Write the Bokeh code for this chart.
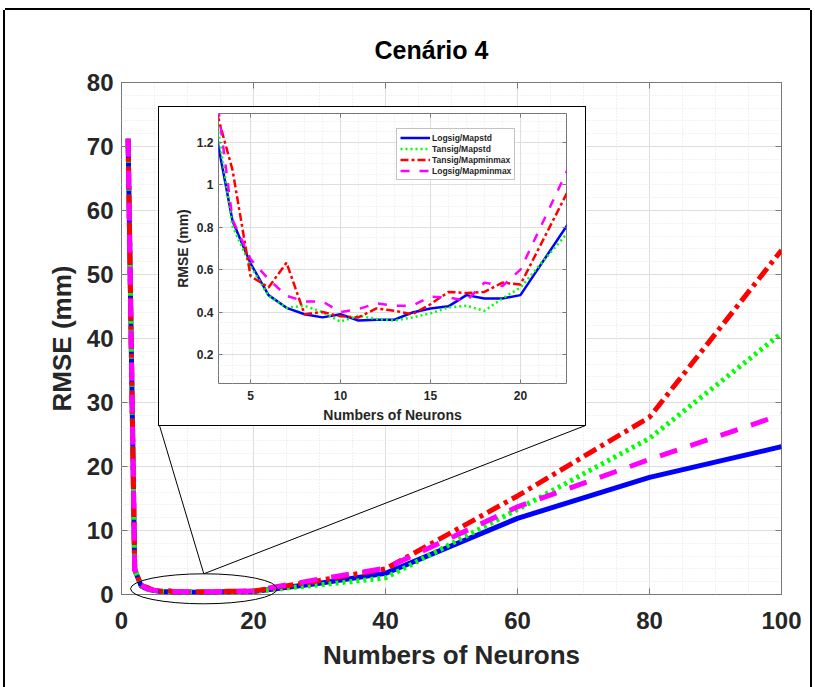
from bokeh.plotting import figure
from bokeh.models import Range1d, LinearAxis, SingleIntervalTicker, Legend, LegendItem
from bokeh.embed import file_html
from bokeh.resources import INLINE

# ---------------- data ----------------
neurons = [1, 2, 3, 4, 5, 6, 7, 8, 9, 10, 11, 12, 13, 14, 15, 16, 17, 18, 19, 20,
           30, 40, 60, 80, 100]
logsig_mapstd = [71.2, 3.9, 1.28, 0.83, 0.63, 0.48, 0.42, 0.39, 0.375, 0.39, 0.36, 0.364,
                 0.364, 0.398, 0.417, 0.427, 0.48, 0.464, 0.464, 0.48,
                 1.75, 3.3, 11.9, 18.3, 23.1]
tansig_mapstd = [71.2, 3.9, 1.37, 0.805, 0.617, 0.477, 0.42, 0.43, 0.40, 0.355, 0.383, 0.367,
                 0.36, 0.375, 0.394, 0.422, 0.43, 0.406, 0.464, 0.516,
                 1.5, 2.6, 13.3, 24.4, 40.8]
tansig_mapminmax = [71.2, 3.9, 1.38, 1.07, 0.57, 0.516, 0.633, 0.39, 0.40, 0.38, 0.375, 0.417,
                    0.406, 0.39, 0.437, 0.495, 0.49, 0.495, 0.539, 0.53,
                    2.2, 4.0, 15.4, 27.7, 53.8]
logsig_mapminmax = [71.2, 3.9, 1.5, 0.836, 0.65, 0.555, 0.477, 0.45, 0.45, 0.40, 0.414, 0.442,
                    0.43, 0.43, 0.473, 0.469, 0.453, 0.539, 0.523, 0.6,
                    2.4, 4.1, 13.7, 21.1, 28.1]
series_names = ["Logsig/Mapstd", "Tansig/Mapstd", "Tansig/Mapminmax", "Logsig/Mapminmax"]
series_values = [logsig_mapstd, tansig_mapstd, tansig_mapminmax, logsig_mapminmax]

title_text = "Cenário 4"
x_label = "Numbers of Neurons"
y_label = "RMSE (mm)"

# ---------------- styles / layout ----------------
FONT = "Liberation Sans"
TXT = "#262626"
AX = "#777777"
colors = ["#0000FF", "#00FF00", "#FF0000", "#FF00FF"]
main_dash = ["solid", "3 4", "14 5 4 5", "18 14"]
inset_dash = ["solid", "2 3", "8 3 3 3", "9 10"]

# main figure placement (page px)
MAIN_LEFT, MAIN_TOP, MAIN_W, MAIN_H = 5, 10, 805, 677
FR_L, FR_R, FR_T, FR_B = 121, 781, 82, 594      # main frame in page px
# inset box placement (page px)
IN_L, IN_T, IN_W, IN_H = 159, 107, 426, 318
IF_L, IF_R, IF_T, IF_B = 218, 566, 113, 385     # inset frame in page px

X0, X1, Y0, Y1 = 0, 100, 0, 80


def style_axis(ax, tick_fs, label_fs, tick_in, label_standoff, axis_label_standoff):
    ax.major_label_text_font = FONT
    ax.major_label_text_font_style = "bold"
    ax.major_label_text_font_size = tick_fs
    ax.major_label_text_color = TXT
    ax.axis_label_text_font = FONT
    ax.axis_label_text_font_style = "bold"
    ax.axis_label_text_font_size = label_fs
    ax.axis_label_text_color = TXT
    ax.axis_line_color = None
    ax.major_tick_in = tick_in
    ax.major_tick_out = 0
    ax.minor_tick_in = 0
    ax.minor_tick_out = 0
    ax.major_tick_line_color = AX
    ax.major_label_standoff = label_standoff
    ax.axis_label_standoff = axis_label_standoff


def blank_axis(ticker, tick_in):
    # tick marks only (MATLAB box), no labels drawn
    return LinearAxis(ticker=ticker, major_label_text_font_size="1px", major_label_text_color=None,
                      major_label_standoff=0,
                      axis_line_color=None, major_tick_in=tick_in, major_tick_out=0,
                      minor_tick_in=0, minor_tick_out=0, major_tick_line_color=AX)


# ---------------- main figure ----------------
p = figure(width=MAIN_W, height=MAIN_H, x_range=Range1d(X0, X1), y_range=Range1d(Y0, Y1),
           output_backend="svg", toolbar_location=None,
           min_border_left=FR_L - MAIN_LEFT, min_border_right=MAIN_LEFT + MAIN_W - FR_R,
           min_border_top=FR_T - MAIN_TOP, min_border_bottom=MAIN_TOP + MAIN_H - FR_B,
           background_fill_color="white", border_fill_color="white",
           outline_line_color=AX, outline_line_width=1,
           x_axis_label=x_label, y_axis_label=y_label,
           styles={"position": "absolute", "left": f"{MAIN_LEFT}px", "top": f"{MAIN_TOP}px",
                   "box-shadow": "-2px 0 0 0 #000, 2px 0 0 0 #000, 0 -2px 0 0 #000"})

p.title.text = title_text
p.title.align = "left"
p.title.offset = 253
p.title.text_font = FONT
p.title.text_font_style = "bold"
p.title.text_font_size = "25px"
p.title.text_color = "#000000"
p.title.standoff = 38

xt = SingleIntervalTicker(interval=20, num_minor_ticks=4)
yt = SingleIntervalTicker(interval=10, num_minor_ticks=5)
p.xaxis.ticker = xt
p.yaxis.ticker = yt
p.xgrid.ticker = xt
p.ygrid.ticker = yt
style_axis(p.xaxis[0], "24px", "26px", 6, 17, 8)
style_axis(p.yaxis[0], "24px", "26px", 6, 8, 7)
p.add_layout(blank_axis(SingleIntervalTicker(interval=20), 6), "above")
p.add_layout(blank_axis(SingleIntervalTicker(interval=10), 6), "right")

for g in (p.xgrid[0], p.ygrid[0]):
    g.grid_line_color = "#dedede"
    g.grid_line_width = 1
    g.minor_grid_line_color = "#e2e2e2"
    g.minor_grid_line_dash = "1 2"

for vals, col, dash in zip(series_values, colors, main_dash):
    p.line(neurons, vals, line_color=col, line_width=5, line_dash=dash, line_cap="butt")

# zoom ellipse and connectors (annotation geometry)
ell_x, ell_y, ell_w, ell_h = 12.47, 0.89, 22.2, 4.69
p.ellipse(x=[ell_x], y=[ell_y], width=ell_w, height=ell_h, fill_color=None,
          line_color="black", line_width=1, level="overlay")


def px2x(px):
    return X0 + (px - FR_L) / (FR_R - FR_L) * (X1 - X0)


def py2y(py):
    return Y0 + (FR_B - py) / (FR_B - FR_T) * (Y1 - Y0)


top_y = ell_y + ell_h / 2
corner_y = py2y(IN_T + IN_H)
p.segment(x0=[ell_x, ell_x], y0=[top_y, top_y],
          x1=[px2x(IN_L), px2x(IN_L + IN_W)], y1=[corner_y, corner_y],
          line_color="black", line_width=1, level="overlay")

# ---------------- inset figure ----------------
ins = figure(width=IN_W, height=IN_H, x_range=Range1d(3.22, 22.56), y_range=Range1d(0.063, 1.337),
             output_backend="svg", toolbar_location=None,
             min_border_left=IF_L - IN_L, min_border_right=IN_L + IN_W - IF_R,
             min_border_top=IF_T - IN_T, min_border_bottom=IN_T + IN_H - IF_B,
             background_fill_color="white", border_fill_color="white",
             outline_line_color=AX, outline_line_width=1,
             x_axis_label=x_label, y_axis_label=y_label,
             styles={"position": "absolute", "left": f"{IN_L}px", "top": f"{IN_T}px",
                     "outline": "1.5px solid #000"})

ixt = SingleIntervalTicker(interval=5, num_minor_ticks=5)
iyt = SingleIntervalTicker(interval=0.2, num_minor_ticks=4)
ins.xaxis.ticker = ixt
ins.yaxis.ticker = iyt
ins.xgrid.ticker = ixt
ins.ygrid.ticker = iyt
style_axis(ins.xaxis[0], "12px", "14px", 4, 7, 4)
style_axis(ins.yaxis[0], "12px", "14px", 4, 5, 3)
ins.yaxis[0].major_label_overrides = {1: "1"}
ins.add_layout(blank_axis(SingleIntervalTicker(interval=5), 4), "above")
ins.add_layout(blank_axis(SingleIntervalTicker(interval=0.2), 4), "right")
for g in (ins.xgrid[0], ins.ygrid[0]):
    g.grid_line_color = "#dedede"
    g.grid_line_width = 1
    g.minor_grid_line_color = "#e6e6e6"
    g.minor_grid_line_dash = "1 2"

items = []
for name, vals, col, dash in zip(series_names, series_values, colors, inset_dash):
    r = ins.line(neurons, vals, line_color=col, line_width=2.5, line_dash=dash, line_cap="butt")
    items.append(LegendItem(label=name, renderers=[r]))

leg = Legend(items=items, location=(178, 203))
leg.label_text_font = FONT
leg.label_text_font_style = "bold"
leg.label_text_font_size = "8.5px"
leg.label_text_color = TXT
leg.glyph_width = 30
leg.glyph_height = 11
leg.label_height = 11
leg.label_standoff = 2
leg.spacing = 0
leg.padding = 3
leg.margin = 0
leg.border_line_color = "#888888"
leg.border_line_width = 1
leg.background_fill_color = "white"
leg.background_fill_alpha = 1
ins.add_layout(leg)

html = file_html([p, ins], INLINE)
open("out.html", "w").write(html)
